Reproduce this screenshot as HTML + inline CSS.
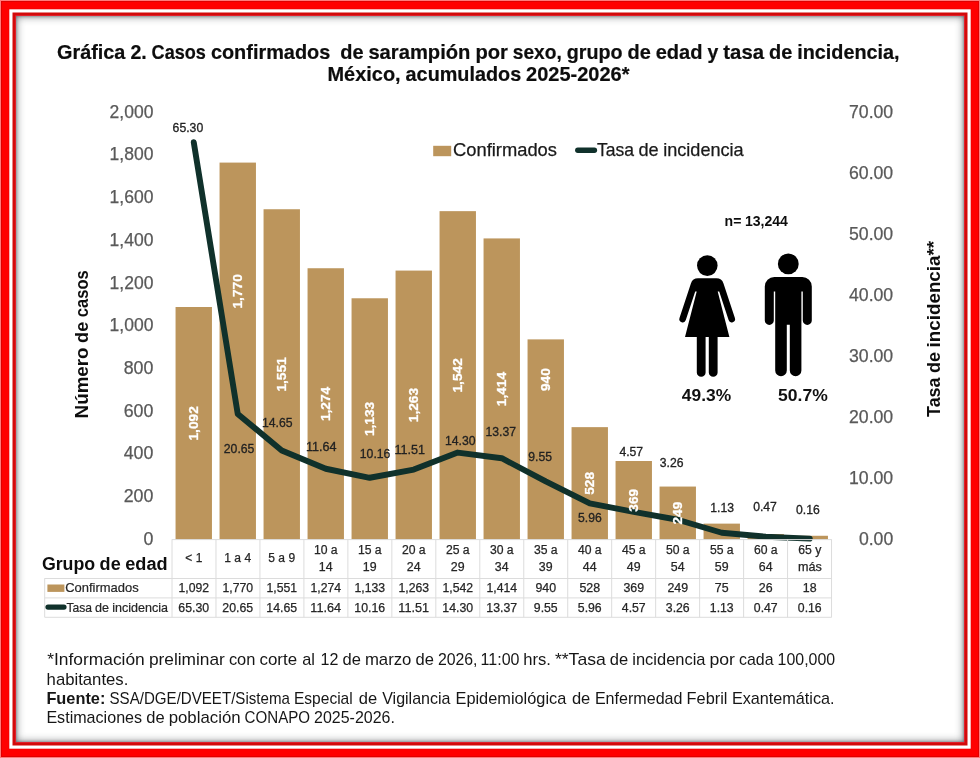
<!DOCTYPE html>
<html lang="es"><head><meta charset="utf-8"><title>Gráfica 2. Casos confirmados de sarampión</title>
<style>
html,body{margin:0;padding:0;background:#fff;}
body{width:980px;height:758px;overflow:hidden;position:relative;font-family:"Liberation Sans",sans-serif;}
.f0{position:absolute;left:0;top:0;width:980px;height:758px;box-sizing:border-box;background:#ff0000;border:1px solid #ff7b7b;}
.f3{position:absolute;left:16px;top:16px;width:948px;height:726px;background:#fff;box-shadow:inset 0 0 9px 0 rgba(40,45,50,.62),inset 0 0 3px 0 rgba(40,45,50,.55);}
svg{position:absolute;left:0;top:0;}
text{font-family:"Liberation Sans",sans-serif;}
.b{font-weight:bold;}
.ax{font-size:17.5px;fill:#595959;stroke:#595959;stroke-width:.25px;}
.dl{font-size:12.3px;fill:#222;stroke:#222;stroke-width:.3px;}
.bl{font-size:13.6px;font-weight:bold;fill:#fff;stroke:#fff;stroke-width:.3px;}
.tc{font-size:12.3px;fill:#262626;stroke:#262626;stroke-width:.25px;}
.fn{fill:#161616;}
.tl{font-size:12.7px;fill:#262626;stroke:#262626;stroke-width:.2px;}
</style></head><body>
<div class="f0"></div>
<svg width="980" height="758" viewBox="0 0 980 758"><rect x="1.5" y="1.5" width="977" height="755" fill="none" stroke="#d80000" stroke-width=".8"/><rect x="8.8" y="8.8" width="962.4" height="740.4" fill="#e00000"/><rect x="9.3" y="9.3" width="961.4" height="739.4" fill="#fff"/><rect x="12.5" y="12.5" width="955" height="733" fill="#d20a0a"/><rect x="15.3" y="15.3" width="949.4" height="727.4" fill="#e8283a"/></svg>
<div class="f3"></div>
<svg width="980" height="758" viewBox="0 0 980 758">
<text y="58.5" font-size="19.7" class="b" fill="#0d0d0d" stroke="#0d0d0d" stroke-width=".2" xml:space="preserve"><tspan x="57.0" textLength="68.4" lengthAdjust="spacingAndGlyphs">Gráfica</tspan> <tspan x="130.4" textLength="16.3" lengthAdjust="spacingAndGlyphs">2.</tspan> <tspan x="151.6" textLength="54.3" lengthAdjust="spacingAndGlyphs">Casos</tspan> <tspan x="210.9" textLength="119.4" lengthAdjust="spacingAndGlyphs">confirmados</tspan>  <tspan x="340.2" textLength="23.3" lengthAdjust="spacingAndGlyphs">de</tspan> <tspan x="368.4" textLength="102.0" lengthAdjust="spacingAndGlyphs">sarampión</tspan> <tspan x="475.4" textLength="32.5" lengthAdjust="spacingAndGlyphs">por</tspan> <tspan x="512.8" textLength="49.0" lengthAdjust="spacingAndGlyphs">sexo,</tspan> <tspan x="566.8" textLength="55.8" lengthAdjust="spacingAndGlyphs">grupo</tspan> <tspan x="627.5" textLength="23.3" lengthAdjust="spacingAndGlyphs">de</tspan> <tspan x="655.7" textLength="46.8" lengthAdjust="spacingAndGlyphs">edad</tspan> <tspan x="707.5" textLength="10.8" lengthAdjust="spacingAndGlyphs">y</tspan> <tspan x="723.3" textLength="40.7" lengthAdjust="spacingAndGlyphs">tasa</tspan> <tspan x="769.0" textLength="23.3" lengthAdjust="spacingAndGlyphs">de</tspan> <tspan x="797.2" textLength="102.4" lengthAdjust="spacingAndGlyphs">incidencia,</tspan></text>
<text y="80.5" font-size="19.7" class="b" fill="#0d0d0d" stroke="#0d0d0d" stroke-width=".2" xml:space="preserve"><tspan x="327.5" textLength="73.1" lengthAdjust="spacingAndGlyphs">México,</tspan> <tspan x="405.6" textLength="115.6" lengthAdjust="spacingAndGlyphs">acumulados</tspan> <tspan x="526.1" textLength="103.4" lengthAdjust="spacingAndGlyphs">2025-2026*</tspan></text>
<text class="ax" x="143.5" y="544.7" textLength="9.9" lengthAdjust="spacingAndGlyphs">0</text>
<text class="ax" x="123.7" y="502.0" textLength="29.7" lengthAdjust="spacingAndGlyphs">200</text>
<text class="ax" x="123.7" y="459.3" textLength="29.7" lengthAdjust="spacingAndGlyphs">400</text>
<text class="ax" x="123.7" y="416.6" textLength="29.7" lengthAdjust="spacingAndGlyphs">600</text>
<text class="ax" x="123.7" y="373.9" textLength="29.7" lengthAdjust="spacingAndGlyphs">800</text>
<text class="ax" x="109.6" y="331.2" textLength="43.8" lengthAdjust="spacingAndGlyphs">1,000</text>
<text class="ax" x="109.6" y="288.5" textLength="43.8" lengthAdjust="spacingAndGlyphs">1,200</text>
<text class="ax" x="109.6" y="245.8" textLength="43.8" lengthAdjust="spacingAndGlyphs">1,400</text>
<text class="ax" x="109.6" y="203.1" textLength="43.8" lengthAdjust="spacingAndGlyphs">1,600</text>
<text class="ax" x="109.6" y="160.4" textLength="43.8" lengthAdjust="spacingAndGlyphs">1,800</text>
<text class="ax" x="109.6" y="117.7" textLength="43.8" lengthAdjust="spacingAndGlyphs">2,000</text>
<text class="ax" x="858.9" y="545.0" textLength="34.3" lengthAdjust="spacingAndGlyphs">0.00</text>
<text class="ax" x="849.0" y="483.9" textLength="44.2" lengthAdjust="spacingAndGlyphs">10.00</text>
<text class="ax" x="849.0" y="422.9" textLength="44.2" lengthAdjust="spacingAndGlyphs">20.00</text>
<text class="ax" x="849.0" y="361.8" textLength="44.2" lengthAdjust="spacingAndGlyphs">30.00</text>
<text class="ax" x="849.0" y="300.7" textLength="44.2" lengthAdjust="spacingAndGlyphs">40.00</text>
<text class="ax" x="849.0" y="239.6" textLength="44.2" lengthAdjust="spacingAndGlyphs">50.00</text>
<text class="ax" x="849.0" y="178.6" textLength="44.2" lengthAdjust="spacingAndGlyphs">60.00</text>
<text class="ax" x="849.0" y="117.5" textLength="44.2" lengthAdjust="spacingAndGlyphs">70.00</text>
<text y="0" font-size="18" transform="translate(87.8,418.4) rotate(-90)" class="b" fill="#0d0d0d" xml:space="preserve"><tspan x="0.0" textLength="71.0" lengthAdjust="spacingAndGlyphs">Número</tspan> <tspan x="75.5" textLength="21.1" lengthAdjust="spacingAndGlyphs">de</tspan> <tspan x="101.1" textLength="47.1" lengthAdjust="spacingAndGlyphs">casos</tspan></text>
<text y="0" font-size="18" transform="translate(940.2,416.9) rotate(-90)" class="b" fill="#0d0d0d" xml:space="preserve"><tspan x="0.0" textLength="39.4" lengthAdjust="spacingAndGlyphs">Tasa</tspan> <tspan x="43.9" textLength="21.1" lengthAdjust="spacingAndGlyphs">de</tspan> <tspan x="69.5" textLength="106.5" lengthAdjust="spacingAndGlyphs">incidencia**</tspan></text>
<rect x="175.55" y="307.00" width="36.4" height="232.60" fill="#BC955C"/>
<rect x="219.55" y="162.59" width="36.4" height="377.01" fill="#BC955C"/>
<rect x="263.55" y="209.24" width="36.4" height="330.36" fill="#BC955C"/>
<rect x="307.55" y="268.24" width="36.4" height="271.36" fill="#BC955C"/>
<rect x="351.55" y="298.27" width="36.4" height="241.33" fill="#BC955C"/>
<rect x="395.55" y="270.58" width="36.4" height="269.02" fill="#BC955C"/>
<rect x="439.55" y="211.15" width="36.4" height="328.45" fill="#BC955C"/>
<rect x="483.55" y="238.42" width="36.4" height="301.18" fill="#BC955C"/>
<rect x="527.55" y="339.38" width="36.4" height="200.22" fill="#BC955C"/>
<rect x="571.55" y="427.14" width="36.4" height="112.46" fill="#BC955C"/>
<rect x="615.55" y="461.00" width="36.4" height="78.60" fill="#BC955C"/>
<rect x="659.55" y="486.56" width="36.4" height="53.04" fill="#BC955C"/>
<rect x="703.55" y="523.62" width="36.4" height="15.97" fill="#BC955C"/>
<rect x="747.55" y="534.06" width="36.4" height="5.54" fill="#BC955C"/>
<rect x="791.55" y="535.77" width="36.4" height="3.83" fill="#BC955C"/>
<polyline points="193.75,142.20 237.75,413.93 281.75,450.44 325.75,468.76 369.75,477.77 413.75,469.55 457.75,452.57 501.75,458.23 545.75,481.48 589.75,503.33 633.75,511.79 677.75,519.76 721.75,532.72 765.75,536.74 809.75,538.63" fill="none" stroke="#10312B" stroke-width="5.9" stroke-linecap="round" stroke-linejoin="round"/>
<text class="bl" transform="translate(198.2,440.5) rotate(-90)" textLength="34.3" lengthAdjust="spacingAndGlyphs">1,092</text>
<text class="bl" transform="translate(242.2,308.5) rotate(-90)" textLength="34.3" lengthAdjust="spacingAndGlyphs">1,770</text>
<text class="bl" transform="translate(286.2,391.6) rotate(-90)" textLength="34.3" lengthAdjust="spacingAndGlyphs">1,551</text>
<text class="bl" transform="translate(330.2,421.1) rotate(-90)" textLength="34.3" lengthAdjust="spacingAndGlyphs">1,274</text>
<text class="bl" transform="translate(374.2,436.1) rotate(-90)" textLength="34.3" lengthAdjust="spacingAndGlyphs">1,133</text>
<text class="bl" transform="translate(418.2,422.2) rotate(-90)" textLength="34.3" lengthAdjust="spacingAndGlyphs">1,263</text>
<text class="bl" transform="translate(462.2,392.5) rotate(-90)" textLength="34.3" lengthAdjust="spacingAndGlyphs">1,542</text>
<text class="bl" transform="translate(506.2,406.2) rotate(-90)" textLength="34.3" lengthAdjust="spacingAndGlyphs">1,414</text>
<text class="bl" transform="translate(550.2,391.0) rotate(-90)" textLength="22.8" lengthAdjust="spacingAndGlyphs">940</text>
<text class="bl" transform="translate(594.2,494.8) rotate(-90)" textLength="22.8" lengthAdjust="spacingAndGlyphs">528</text>
<text class="bl" transform="translate(638.2,511.7) rotate(-90)" textLength="22.8" lengthAdjust="spacingAndGlyphs">369</text>
<text class="bl" transform="translate(682.2,524.5) rotate(-90)" textLength="22.8" lengthAdjust="spacingAndGlyphs">249</text>
<text class="dl" x="172.6" y="132.4" textLength="30.6" lengthAdjust="spacingAndGlyphs">65.30</text>
<text class="dl" x="223.8" y="453.1" textLength="30.6" lengthAdjust="spacingAndGlyphs">20.65</text>
<text class="dl" x="262.0" y="427.4" textLength="30.6" lengthAdjust="spacingAndGlyphs">14.65</text>
<text class="dl" x="306.0" y="450.6" textLength="30.6" lengthAdjust="spacingAndGlyphs">11.64</text>
<text class="dl" x="359.8" y="458.3" textLength="30.6" lengthAdjust="spacingAndGlyphs">10.16</text>
<text class="dl" x="394.5" y="454.1" textLength="30.6" lengthAdjust="spacingAndGlyphs">11.51</text>
<text class="dl" x="444.9" y="444.6" textLength="30.6" lengthAdjust="spacingAndGlyphs">14.30</text>
<text class="dl" x="485.5" y="436.3" textLength="30.6" lengthAdjust="spacingAndGlyphs">13.37</text>
<text class="dl" x="528.3" y="461.0" textLength="23.7" lengthAdjust="spacingAndGlyphs">9.55</text>
<text class="dl" x="578.1" y="522.2" textLength="23.7" lengthAdjust="spacingAndGlyphs">5.96</text>
<text class="dl" x="619.4" y="455.5" textLength="23.7" lengthAdjust="spacingAndGlyphs">4.57</text>
<text class="dl" x="659.8" y="466.5" textLength="23.7" lengthAdjust="spacingAndGlyphs">3.26</text>
<text class="dl" x="710.3" y="512.1" textLength="23.7" lengthAdjust="spacingAndGlyphs">1.13</text>
<text class="dl" x="753.2" y="510.9" textLength="23.7" lengthAdjust="spacingAndGlyphs">0.47</text>
<text class="dl" x="796.0" y="514.0" textLength="23.7" lengthAdjust="spacingAndGlyphs">0.16</text>
<rect x="433.2" y="145.8" width="18" height="10.4" fill="#BC955C"/>
<text x="453" y="155.5" font-size="17.8" fill="#1a1a1a" stroke="#1a1a1a" stroke-width=".25" textLength="104" lengthAdjust="spacingAndGlyphs">Confirmados</text>
<line x1="577.8" y1="150.3" x2="594.4" y2="150.3" stroke="#10312B" stroke-width="5.4" stroke-linecap="round"/>
<text y="155.5" font-size="17.8" fill="#1a1a1a" stroke="#1a1a1a" stroke-width=".25" xml:space="preserve"><tspan x="597.0" textLength="37.0" lengthAdjust="spacingAndGlyphs">Tasa</tspan> <tspan x="638.4" textLength="20.2" lengthAdjust="spacingAndGlyphs">de</tspan> <tspan x="663.2" textLength="80.5" lengthAdjust="spacingAndGlyphs">incidencia</tspan></text>
<text y="226.1" font-size="13.9" class="b" fill="#0d0d0d" xml:space="preserve"><tspan x="724.6" textLength="16.8" lengthAdjust="spacingAndGlyphs">n=</tspan> <tspan x="744.9" textLength="43.0" lengthAdjust="spacingAndGlyphs">13,244</tspan></text>
<g fill="#000">
<circle cx="707.3" cy="265.6" r="10.3"/>
<path d="M698,278.3 H716.4 a7.5,7.5 0 0 1 7.1,5.1 L734.9,318 a3.3,3.3 0 0 1 -6.3,2.1 L719.2,291.6 h-1.5 L729.4,337.1 H717.6 V372.4 a4.4,4.4 0 0 1 -8.8,0 V337.1 h-3.2 V372.4 a4.4,4.4 0 0 1 -8.8,0 V337.1 H685 L696.7,291.6 h-1.5 L685.8,320.1 a3.3,3.3 0 0 1 -6.3,-2.1 L690.9,283.4 a7.5,7.5 0 0 1 7.1,-5.1 z"/>
<circle cx="788.3" cy="263.9" r="10.4"/>
<path d="M774.3,276.9 h28 a9.5,9.5 0 0 1 9.5,9.5 v34 a4.5,4.5 0 0 1 -9,0 v-29 h-1.4 v79 a5.8,5.8 0 0 1 -11.6,0 v-45.6 h-3 v45.6 a5.8,5.8 0 0 1 -11.6,0 v-79 h-1.4 v29 a4.5,4.5 0 0 1 -9,0 v-34 a9.5,9.5 0 0 1 9.5,-9.5 z"/>
</g>
<text class="b" x="681.8" y="400.9" font-size="17.3" fill="#111" textLength="49.3" lengthAdjust="spacingAndGlyphs">49.3%</text>
<text class="b" x="778.1" y="400.9" font-size="17.3" fill="#111" textLength="49.7" lengthAdjust="spacingAndGlyphs">50.7%</text>
<g stroke="#dcdcdc" stroke-width="1" fill="none">
<line x1="172.00" y1="539.3" x2="172.00" y2="617.3"/>
<line x1="215.97" y1="539.3" x2="215.97" y2="617.3"/>
<line x1="259.94" y1="539.3" x2="259.94" y2="617.3"/>
<line x1="303.91" y1="539.3" x2="303.91" y2="617.3"/>
<line x1="347.88" y1="539.3" x2="347.88" y2="617.3"/>
<line x1="391.85" y1="539.3" x2="391.85" y2="617.3"/>
<line x1="435.82" y1="539.3" x2="435.82" y2="617.3"/>
<line x1="479.79" y1="539.3" x2="479.79" y2="617.3"/>
<line x1="523.76" y1="539.3" x2="523.76" y2="617.3"/>
<line x1="567.73" y1="539.3" x2="567.73" y2="617.3"/>
<line x1="611.70" y1="539.3" x2="611.70" y2="617.3"/>
<line x1="655.67" y1="539.3" x2="655.67" y2="617.3"/>
<line x1="699.64" y1="539.3" x2="699.64" y2="617.3"/>
<line x1="743.61" y1="539.3" x2="743.61" y2="617.3"/>
<line x1="787.58" y1="539.3" x2="787.58" y2="617.3"/>
<line x1="831.55" y1="539.3" x2="831.55" y2="617.3"/>
<line x1="44.7" y1="578.3" x2="44.7" y2="617.3"/>
<line x1="172" y1="539.6" x2="831.6" y2="539.6"/>
<line x1="44.7" y1="578.5" x2="831.6" y2="578.5"/>
<line x1="44.7" y1="597.9" x2="831.6" y2="597.9"/>
<line x1="44.7" y1="617.3" x2="831.6" y2="617.3"/>
</g>
<text y="569.8" font-size="18" class="b" fill="#0d0d0d" xml:space="preserve"><tspan x="41.9" textLength="53.3" lengthAdjust="spacingAndGlyphs">Grupo</tspan> <tspan x="99.6" textLength="21.1" lengthAdjust="spacingAndGlyphs">de</tspan> <tspan x="125.2" textLength="42.4" lengthAdjust="spacingAndGlyphs">edad</tspan></text>
<text class="tc" x="185.3" y="562.3" textLength="17.0" lengthAdjust="spacingAndGlyphs" xml:space="preserve">&lt; 1</text>
<text class="tc" x="178.5" y="592.1" textLength="30.6" lengthAdjust="spacingAndGlyphs" xml:space="preserve">1,092</text>
<text class="tc" x="178.3" y="612.0" textLength="30.8" lengthAdjust="spacingAndGlyphs" xml:space="preserve">65.30</text>
<text class="tc" x="224.3" y="562.3" textLength="26.8" lengthAdjust="spacingAndGlyphs" xml:space="preserve">1 a 4</text>
<text class="tc" x="222.5" y="592.1" textLength="30.6" lengthAdjust="spacingAndGlyphs" xml:space="preserve">1,770</text>
<text class="tc" x="222.3" y="612.0" textLength="30.8" lengthAdjust="spacingAndGlyphs" xml:space="preserve">20.65</text>
<text class="tc" x="268.3" y="562.3" textLength="26.8" lengthAdjust="spacingAndGlyphs" xml:space="preserve">5 a 9</text>
<text class="tc" x="266.5" y="592.1" textLength="30.6" lengthAdjust="spacingAndGlyphs" xml:space="preserve">1,551</text>
<text class="tc" x="266.3" y="612.0" textLength="30.8" lengthAdjust="spacingAndGlyphs" xml:space="preserve">14.65</text>
<text class="tc" x="313.9" y="554.4" textLength="23.7" lengthAdjust="spacingAndGlyphs" xml:space="preserve">10 a</text>
<text class="tc" x="318.8" y="571.4" textLength="13.8" lengthAdjust="spacingAndGlyphs" xml:space="preserve">14</text>
<text class="tc" x="310.5" y="592.1" textLength="30.6" lengthAdjust="spacingAndGlyphs" xml:space="preserve">1,274</text>
<text class="tc" x="310.3" y="612.0" textLength="30.8" lengthAdjust="spacingAndGlyphs" xml:space="preserve">11.64</text>
<text class="tc" x="357.9" y="554.4" textLength="23.7" lengthAdjust="spacingAndGlyphs" xml:space="preserve">15 a</text>
<text class="tc" x="362.8" y="571.4" textLength="13.8" lengthAdjust="spacingAndGlyphs" xml:space="preserve">19</text>
<text class="tc" x="354.5" y="592.1" textLength="30.6" lengthAdjust="spacingAndGlyphs" xml:space="preserve">1,133</text>
<text class="tc" x="354.3" y="612.0" textLength="30.8" lengthAdjust="spacingAndGlyphs" xml:space="preserve">10.16</text>
<text class="tc" x="401.9" y="554.4" textLength="23.7" lengthAdjust="spacingAndGlyphs" xml:space="preserve">20 a</text>
<text class="tc" x="406.8" y="571.4" textLength="13.8" lengthAdjust="spacingAndGlyphs" xml:space="preserve">24</text>
<text class="tc" x="398.5" y="592.1" textLength="30.6" lengthAdjust="spacingAndGlyphs" xml:space="preserve">1,263</text>
<text class="tc" x="398.3" y="612.0" textLength="30.8" lengthAdjust="spacingAndGlyphs" xml:space="preserve">11.51</text>
<text class="tc" x="445.9" y="554.4" textLength="23.7" lengthAdjust="spacingAndGlyphs" xml:space="preserve">25 a</text>
<text class="tc" x="450.8" y="571.4" textLength="13.8" lengthAdjust="spacingAndGlyphs" xml:space="preserve">29</text>
<text class="tc" x="442.5" y="592.1" textLength="30.6" lengthAdjust="spacingAndGlyphs" xml:space="preserve">1,542</text>
<text class="tc" x="442.3" y="612.0" textLength="30.8" lengthAdjust="spacingAndGlyphs" xml:space="preserve">14.30</text>
<text class="tc" x="489.9" y="554.4" textLength="23.7" lengthAdjust="spacingAndGlyphs" xml:space="preserve">30 a</text>
<text class="tc" x="494.8" y="571.4" textLength="13.8" lengthAdjust="spacingAndGlyphs" xml:space="preserve">34</text>
<text class="tc" x="486.5" y="592.1" textLength="30.6" lengthAdjust="spacingAndGlyphs" xml:space="preserve">1,414</text>
<text class="tc" x="486.3" y="612.0" textLength="30.8" lengthAdjust="spacingAndGlyphs" xml:space="preserve">13.37</text>
<text class="tc" x="533.9" y="554.4" textLength="23.7" lengthAdjust="spacingAndGlyphs" xml:space="preserve">35 a</text>
<text class="tc" x="538.8" y="571.4" textLength="13.8" lengthAdjust="spacingAndGlyphs" xml:space="preserve">39</text>
<text class="tc" x="535.4" y="592.1" textLength="20.7" lengthAdjust="spacingAndGlyphs" xml:space="preserve">940</text>
<text class="tc" x="533.8" y="612.0" textLength="23.9" lengthAdjust="spacingAndGlyphs" xml:space="preserve">9.55</text>
<text class="tc" x="577.9" y="554.4" textLength="23.7" lengthAdjust="spacingAndGlyphs" xml:space="preserve">40 a</text>
<text class="tc" x="582.8" y="571.4" textLength="13.8" lengthAdjust="spacingAndGlyphs" xml:space="preserve">44</text>
<text class="tc" x="579.4" y="592.1" textLength="20.7" lengthAdjust="spacingAndGlyphs" xml:space="preserve">528</text>
<text class="tc" x="577.8" y="612.0" textLength="23.9" lengthAdjust="spacingAndGlyphs" xml:space="preserve">5.96</text>
<text class="tc" x="621.9" y="554.4" textLength="23.7" lengthAdjust="spacingAndGlyphs" xml:space="preserve">45 a</text>
<text class="tc" x="626.8" y="571.4" textLength="13.8" lengthAdjust="spacingAndGlyphs" xml:space="preserve">49</text>
<text class="tc" x="623.4" y="592.1" textLength="20.7" lengthAdjust="spacingAndGlyphs" xml:space="preserve">369</text>
<text class="tc" x="621.8" y="612.0" textLength="23.9" lengthAdjust="spacingAndGlyphs" xml:space="preserve">4.57</text>
<text class="tc" x="665.9" y="554.4" textLength="23.7" lengthAdjust="spacingAndGlyphs" xml:space="preserve">50 a</text>
<text class="tc" x="670.8" y="571.4" textLength="13.8" lengthAdjust="spacingAndGlyphs" xml:space="preserve">54</text>
<text class="tc" x="667.4" y="592.1" textLength="20.7" lengthAdjust="spacingAndGlyphs" xml:space="preserve">249</text>
<text class="tc" x="665.8" y="612.0" textLength="23.9" lengthAdjust="spacingAndGlyphs" xml:space="preserve">3.26</text>
<text class="tc" x="709.9" y="554.4" textLength="23.7" lengthAdjust="spacingAndGlyphs" xml:space="preserve">55 a</text>
<text class="tc" x="714.8" y="571.4" textLength="13.8" lengthAdjust="spacingAndGlyphs" xml:space="preserve">59</text>
<text class="tc" x="714.8" y="592.1" textLength="13.8" lengthAdjust="spacingAndGlyphs" xml:space="preserve">75</text>
<text class="tc" x="709.8" y="612.0" textLength="23.9" lengthAdjust="spacingAndGlyphs" xml:space="preserve">1.13</text>
<text class="tc" x="753.9" y="554.4" textLength="23.7" lengthAdjust="spacingAndGlyphs" xml:space="preserve">60 a</text>
<text class="tc" x="758.8" y="571.4" textLength="13.8" lengthAdjust="spacingAndGlyphs" xml:space="preserve">64</text>
<text class="tc" x="758.8" y="592.1" textLength="13.8" lengthAdjust="spacingAndGlyphs" xml:space="preserve">26</text>
<text class="tc" x="753.8" y="612.0" textLength="23.9" lengthAdjust="spacingAndGlyphs" xml:space="preserve">0.47</text>
<text class="tc" x="798.2" y="554.4" textLength="23.1" lengthAdjust="spacingAndGlyphs" xml:space="preserve">65 y</text>
<text class="tc" x="797.9" y="571.4" textLength="23.8" lengthAdjust="spacingAndGlyphs" xml:space="preserve">más</text>
<text class="tc" x="802.8" y="592.1" textLength="13.8" lengthAdjust="spacingAndGlyphs" xml:space="preserve">18</text>
<text class="tc" x="797.8" y="612.0" textLength="23.9" lengthAdjust="spacingAndGlyphs" xml:space="preserve">0.16</text>
<rect x="47.4" y="584.5" width="17" height="7.4" fill="#BC955C"/>
<text class="tl" x="65.2" y="592.0" textLength="73.5" lengthAdjust="spacingAndGlyphs">Confirmados</text>
<line x1="48" y1="607.1" x2="64" y2="607.1" stroke="#10312B" stroke-width="5.2" stroke-linecap="round"/>
<text y="612.0" font-size="12.7" class="tl" xml:space="preserve"><tspan x="66.4" textLength="25.6" lengthAdjust="spacingAndGlyphs">Tasa</tspan> <tspan x="95.1" textLength="14.0" lengthAdjust="spacingAndGlyphs">de</tspan> <tspan x="112.2" textLength="55.8" lengthAdjust="spacingAndGlyphs">incidencia</tspan></text>
<text y="664.9" font-size="15.9" class="fn" xml:space="preserve"><tspan x="47.2" textLength="97.6" lengthAdjust="spacingAndGlyphs">*Información</tspan> <tspan x="148.9" textLength="76.0" lengthAdjust="spacingAndGlyphs">preliminar</tspan> <tspan x="228.9" textLength="26.5" lengthAdjust="spacingAndGlyphs">con</tspan> <tspan x="259.5" textLength="37.6" lengthAdjust="spacingAndGlyphs">corte</tspan> <tspan x="302.3" textLength="12.7" lengthAdjust="spacingAndGlyphs">al</tspan> <tspan x="320.5" textLength="17.9" lengthAdjust="spacingAndGlyphs">12</tspan> <tspan x="342.5" textLength="18.4" lengthAdjust="spacingAndGlyphs">de</tspan> <tspan x="364.9" textLength="46.5" lengthAdjust="spacingAndGlyphs">marzo</tspan> <tspan x="415.5" textLength="18.4" lengthAdjust="spacingAndGlyphs">de</tspan> <tspan x="437.9" textLength="39.6" lengthAdjust="spacingAndGlyphs">2026,</tspan> <tspan x="480.6" textLength="38.9" lengthAdjust="spacingAndGlyphs">11:00</tspan> <tspan x="523.2" textLength="27.7" lengthAdjust="spacingAndGlyphs">hrs.</tspan> <tspan x="554.9" textLength="50.9" lengthAdjust="spacingAndGlyphs">**Tasa</tspan> <tspan x="609.8" textLength="18.4" lengthAdjust="spacingAndGlyphs">de</tspan> <tspan x="632.3" textLength="73.2" lengthAdjust="spacingAndGlyphs">incidencia</tspan> <tspan x="709.5" textLength="25.5" lengthAdjust="spacingAndGlyphs">por</tspan> <tspan x="739.0" textLength="34.5" lengthAdjust="spacingAndGlyphs">cada</tspan> <tspan x="777.6" textLength="57.5" lengthAdjust="spacingAndGlyphs">100,000</tspan></text>
<text y="684.8" font-size="15.9" class="fn" xml:space="preserve"><tspan x="46.6" textLength="81.7" lengthAdjust="spacingAndGlyphs">habitantes.</tspan></text>
<text y="703.5" font-size="15.9" class="fn" xml:space="preserve"><tspan x="46.4" textLength="59.0" lengthAdjust="spacingAndGlyphs" font-weight="bold">Fuente:</tspan> <tspan x="109.5" textLength="180.4" lengthAdjust="spacingAndGlyphs">SSA/DGE/DVEET/Sistema</tspan> <tspan x="294.0" textLength="58.7" lengthAdjust="spacingAndGlyphs">Especial</tspan> <tspan x="358.7" textLength="18.4" lengthAdjust="spacingAndGlyphs">de</tspan> <tspan x="382.2" textLength="68.3" lengthAdjust="spacingAndGlyphs">Vigilancia</tspan> <tspan x="455.5" textLength="110.8" lengthAdjust="spacingAndGlyphs">Epidemiológica</tspan> <tspan x="571.9" textLength="18.4" lengthAdjust="spacingAndGlyphs">de</tspan> <tspan x="594.9" textLength="87.6" lengthAdjust="spacingAndGlyphs">Enfermedad</tspan> <tspan x="686.6" textLength="40.8" lengthAdjust="spacingAndGlyphs">Febril</tspan> <tspan x="731.9" textLength="102.7" lengthAdjust="spacingAndGlyphs">Exantemática.</tspan></text>
<text y="722.8" font-size="15.9" class="fn" xml:space="preserve"><tspan x="46.4" textLength="95.7" lengthAdjust="spacingAndGlyphs">Estimaciones</tspan> <tspan x="146.2" textLength="18.4" lengthAdjust="spacingAndGlyphs">de</tspan> <tspan x="168.7" textLength="71.9" lengthAdjust="spacingAndGlyphs">población</tspan> <tspan x="244.6" textLength="65.5" lengthAdjust="spacingAndGlyphs">CONAPO</tspan> <tspan x="314.1" textLength="80.8" lengthAdjust="spacingAndGlyphs">2025-2026.</tspan></text>
</svg></body></html>
